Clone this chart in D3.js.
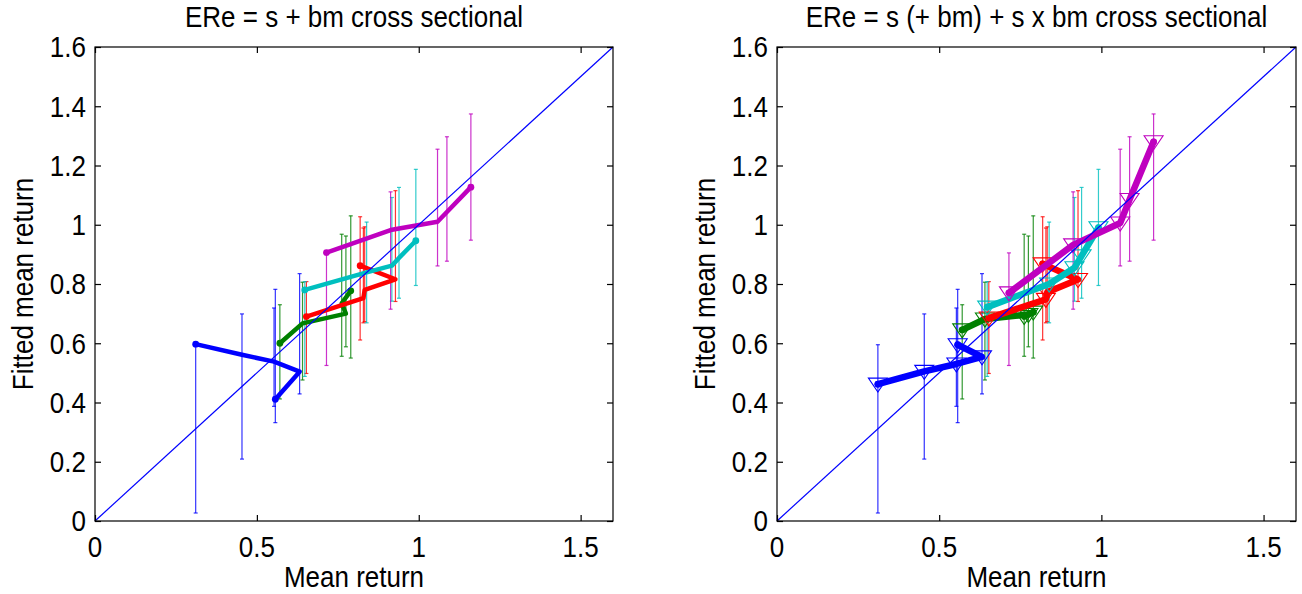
<!DOCTYPE html>
<html>
<head>
<meta charset="utf-8">
<script src="https://cdn.jsdelivr.net/npm/d3@7"></script>
<style>
  body { margin: 0; background: #fff; }
  svg text { font-family: 'Liberation Sans', Arial, sans-serif; fill: #000; }
</style>
</head>
<body>
<svg id="chart" width="1302" height="594"></svg>
<script>
// size groups, one colour each
const groupColors = ['#0000ff', '#008000', '#ff0000', '#00bfbf', '#bf00bf'];

// mean returns (x), per size group, ordered along book-to-market
const meanBlue = [0.311, 0.454, 0.553, 0.632, 0.557];
const meanGreen = [0.571, 0.641, 0.775, 0.762, 0.790];
const meanRed = [0.653, 0.829, 0.833, 0.928, 0.819];
const meanCyan = [0.648, 0.839, 0.917, 0.939, 0.991];
const meanMagenta = [0.715, 0.913, 1.058, 1.087, 1.161];

// fitted mean returns, left model: ERe = s + bm
const fitLBlue = [0.597, 0.561, 0.538, 0.504, 0.411];
const fitLGreen = [0.600, 0.667, 0.700, 0.735, 0.777];
const fitLRed = [0.690, 0.752, 0.780, 0.816, 0.862];
const fitLCyan = [0.780, 0.839, 0.862, 0.888, 0.946];
const fitLMagenta = [0.906, 0.982, 1.010, 1.043, 1.127];

// fitted mean returns, right model: ERe = s (+ bm) + s x bm
const fitRBlue = [0.462, 0.505, 0.530, 0.554, 0.595];
const fitRGreen = [0.645, 0.682, 0.697, 0.690, 0.705];
const fitRRed = [0.685, 0.748, 0.772, 0.815, 0.868];
const fitRCyan = [0.722, 0.800, 0.855, 0.895, 0.990];
const fitRMagenta = [0.770, 0.932, 1.006, 1.085, 1.280];

// error bar half widths (2 standard errors), around the mean return
const errBlue = [0.284, 0.245, 0.166, 0.203, 0.225];
const errGreen = [0.159, 0.165, 0.187, 0.206, 0.240];
const errRed = [0.155, 0.160, 0.160, 0.187, 0.208];
const errCyan = [0.160, 0.170, 0.175, 0.187, 0.196];
const errMagenta = [0.190, 0.198, 0.197, 0.210, 0.213];

const xTicks = [0, 0.5, 1, 1.5];
const yTicks = [0, 0.2, 0.4, 0.6, 0.8, 1, 1.2, 1.4, 1.6];
const titles = ['ERe = s + bm cross sectional', 'ERe = s (+ bm) + s x bm cross sectional'];

const means = [meanBlue, meanGreen, meanRed, meanCyan, meanMagenta];
const errs = [errBlue, errGreen, errRed, errCyan, errMagenta];
const fitsLeft = [fitLBlue, fitLGreen, fitLRed, fitLCyan, fitLMagenta];
const fitsRight = [fitRBlue, fitRGreen, fitRRed, fitRCyan, fitRMagenta];

const svg = d3.select('#chart');
const axTop = 47, axBottom = 521;
const fontSize = 26;
const stretch = 1.12; // matlab text renders a bit taller than it is wide

function label(g, x, y, str, anchor, rot) {
  g.append('text')
    .attr('transform', `translate(${x},${y})` + (rot ? ` rotate(${rot})` : '') + ` scale(1,${stretch})`)
    .attr('text-anchor', anchor).attr('font-size', fontSize).text(str);
}

function panel(left, right, title, fits, markers) {
  const x = d3.scaleLinear().domain([0, 1.6]).range([left, right]);
  const y = d3.scaleLinear().domain([0, 1.6]).range([axBottom, axTop]);
  const g = svg.append('g');

  // error bars
  means.forEach((m, gi) => {
    const rows = m.map((v, i) => ({x: v, e: errs[gi][i]}));
    const eb = g.append('g').attr('stroke', groupColors[gi]).attr('stroke-width', 1.2).attr('stroke-opacity', 0.8);
    eb.selectAll('line.v').data(rows).join('line').attr('class', 'v')
      .attr('x1', d => x(d.x)).attr('x2', d => x(d.x))
      .attr('y1', d => y(d.x - d.e)).attr('y2', d => y(d.x + d.e));
    eb.selectAll('line.lo').data(rows).join('line').attr('class', 'lo')
      .attr('x1', d => x(d.x) - 2).attr('x2', d => x(d.x) + 2)
      .attr('y1', d => y(d.x - d.e)).attr('y2', d => y(d.x - d.e));
    eb.selectAll('line.hi').data(rows).join('line').attr('class', 'hi')
      .attr('x1', d => x(d.x) - 2).attr('x2', d => x(d.x) + 2)
      .attr('y1', d => y(d.x + d.e)).attr('y2', d => y(d.x + d.e));
  });

  // fitted lines, one per size group
  const line = d3.line().x(d => x(d[0])).y(d => y(d[1]));
  means.forEach((m, gi) => {
    const pts = m.map((v, i) => [v, fits[gi][i]]);
    g.append('path').datum(pts)
      .attr('fill', 'none').attr('stroke', groupColors[gi])
      .attr('stroke-width', markers ? 6.5 : 4.5)
      .attr('stroke-linejoin', 'round').attr('stroke-linecap', 'round')
      .attr('d', line);
    g.append('g').selectAll('circle').data([pts[0], pts[pts.length - 1]]).join('circle')
      .attr('cx', d => x(d[0])).attr('cy', d => y(d[1])).attr('r', 3.4)
      .attr('fill', groupColors[gi]);
    if (markers) {
      g.append('g').selectAll('path').data(pts).join('path')
        .attr('transform', d => `translate(${x(d[0])},${y(d[1])})`)
        .attr('d', 'M-9.5,-6L9.5,-6L0,8Z')
        .attr('fill', 'none').attr('stroke', groupColors[gi]).attr('stroke-width', 1.1);
    }
  });

  // 45 degree line
  g.append('line')
    .attr('x1', x(0)).attr('y1', y(0)).attr('x2', x(1.6)).attr('y2', y(1.6))
    .attr('stroke', '#0000ff').attr('stroke-width', 1.2);

  // axes box + inward ticks
  g.append('rect').attr('x', left).attr('y', axTop).attr('width', right - left).attr('height', axBottom - axTop)
    .attr('fill', 'none').attr('stroke', '#000').attr('stroke-width', 1.2);
  g.append('g').call(d3.axisBottom(x).tickValues(xTicks).tickSize(-6).tickFormat(''))
    .attr('transform', `translate(0,${axBottom})`).call(a => a.select('.domain').remove());
  g.append('g').call(d3.axisTop(x).tickValues(xTicks).tickSize(-6).tickFormat(''))
    .attr('transform', `translate(0,${axTop})`).call(a => a.select('.domain').remove());
  g.append('g').call(d3.axisLeft(y).tickValues(yTicks).tickSize(-6).tickFormat(''))
    .attr('transform', `translate(${left},0)`).call(a => a.select('.domain').remove());
  g.append('g').call(d3.axisRight(y).tickValues(yTicks).tickSize(-6).tickFormat(''))
    .attr('transform', `translate(${right},0)`).call(a => a.select('.domain').remove());
  g.selectAll('.tick line').attr('stroke', '#000').attr('stroke-width', 1.2);

  // tick labels
  xTicks.forEach(t => label(g, x(t), axBottom + 36, d3.format('')(t), 'middle'));
  yTicks.forEach(t => label(g, left - 9, y(t) + 10.4, d3.format('')(t), 'end'));

  // titles
  label(g, (left + right) / 2, 27, title, 'middle');
  label(g, (left + right) / 2, 587, 'Mean return', 'middle');
  label(g, left - 62, (axTop + axBottom) / 2, 'Fitted mean return', 'middle', -90);
}

panel(95, 613, titles[0], fitsLeft, false);
panel(777, 1296, titles[1], fitsRight, true);
</script>
</body>
</html>
